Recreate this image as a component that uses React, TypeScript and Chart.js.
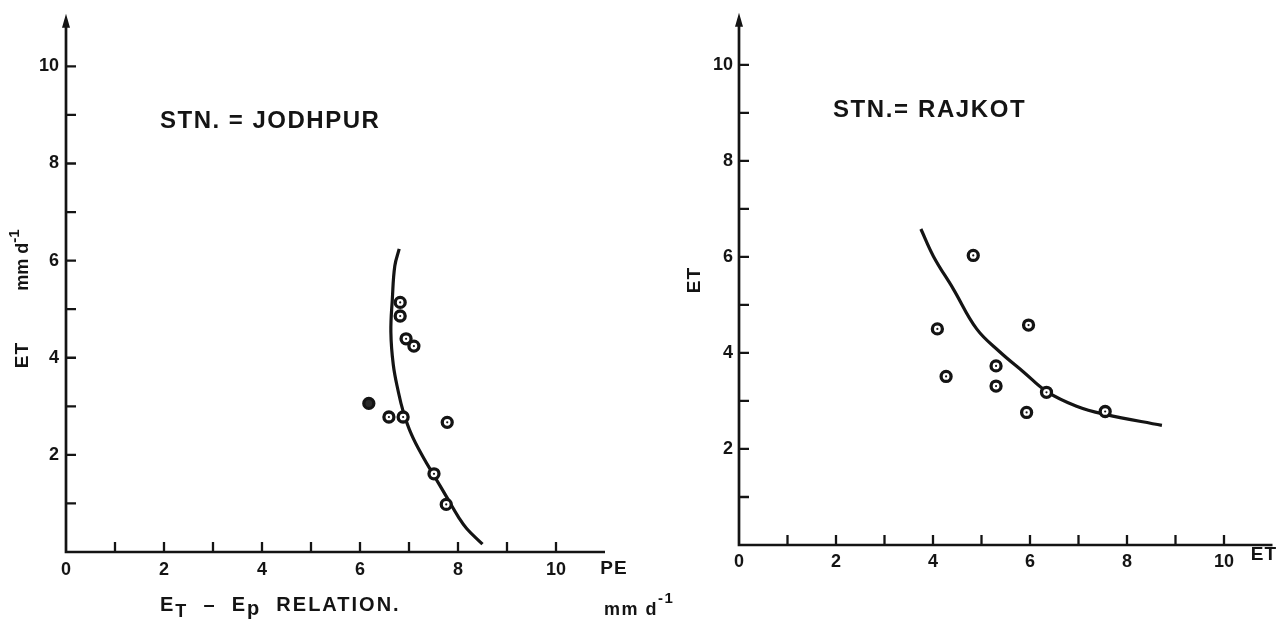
import React, { useEffect, useRef } from 'react';
import { Chart, registerables } from 'chart.js';

Chart.register(...registerables);

// ---------- DATA ----------
// Jodhpur: observed ET vs PE (mm/day)
const jodhpurPE = [6.82, 6.82, 6.94, 7.10, 6.59, 6.88, 7.78, 7.51, 7.76];
const jodhpurET = [5.14, 4.86, 4.39, 4.24, 2.78, 2.78, 2.67, 1.61, 0.98];
const jodhpurSolidPE = [6.18];
const jodhpurSolidET = [3.06];
// Jodhpur fitted curve
const jodhpurCurvePE = [6.80, 6.71, 6.66, 6.63, 6.68, 6.78, 6.88, 7.05, 7.29, 7.53, 7.77, 8.01, 8.18, 8.50];
const jodhpurCurveET = [6.24, 5.89, 5.21, 4.53, 3.85, 3.31, 2.90, 2.42, 1.95, 1.54, 1.13, 0.72, 0.48, 0.16];

// Rajkot: observed points
const rajkotX = [4.83, 4.09, 5.97, 4.27, 5.30, 5.30, 5.93, 6.34, 7.55];
const rajkotET = [6.03, 4.50, 4.58, 3.51, 3.73, 3.31, 2.76, 3.18, 2.78];
// Rajkot fitted curve
const rajkotCurveX = [3.75, 4.01, 4.42, 4.90, 5.38, 5.86, 6.34, 6.96, 7.55, 8.72];
const rajkotCurveET = [6.58, 6.01, 5.33, 4.50, 4.02, 3.61, 3.20, 2.89, 2.72, 2.49];

// Tick labels
const xTickLabels = ['0', '2', '4', '6', '8', '10'];
const yTickLabels = ['2', '4', '6', '8', '10'];
const minorTickValues = [1, 2, 3, 4, 5, 6, 7, 8, 9, 10];

// ---------- STYLE ----------
const INK = '#141414';
const FONT = '"Liberation Sans", Arial, sans-serif';

type Part = { t: string; size: number; dy?: number };
type TextItem = { parts: Part[]; x: number; y: number; align?: 'left' | 'center'; rotate?: boolean; spacing?: number };

const toPoints = (xs: number[], ys: number[]) => xs.map((x, i) => ({ x, y: ys[i] }));

function drawRich(ctx: CanvasRenderingContext2D, item: TextItem, offX: number) {
  ctx.save();
  ctx.fillStyle = INK;
  ctx.textBaseline = 'middle';
  ctx.textAlign = 'left';
  (ctx as any).letterSpacing = (item.spacing ?? 0) + 'px';
  let total = 0;
  const widths = item.parts.map((p) => {
    ctx.font = `bold ${p.size}px ${FONT}`;
    const w = ctx.measureText(p.t).width;
    total += w;
    return w;
  });
  ctx.translate(item.x - offX, item.y);
  if (item.rotate) ctx.rotate(-Math.PI / 2);
  let cx = item.align === 'left' ? 0 : -total / 2;
  item.parts.forEach((p, i) => {
    ctx.font = `bold ${p.size}px ${FONT}`;
    ctx.fillText(p.t, cx, p.dy ?? 0);
    cx += widths[i];
  });
  ctx.restore();
}

function makeDecor(name: string, offX: number, xEnd: number, yEnd: number, texts: TextItem[]) {
  return {
    id: 'decor_' + name,
    afterDraw(chart: any) {
      const ctx: CanvasRenderingContext2D = chart.ctx;
      const xs = chart.scales.x;
      const ys = chart.scales.y;
      const x0 = xs.getPixelForValue(0);
      const y0 = ys.getPixelForValue(0);
      const xe = xs.getPixelForValue(xEnd);
      const yt = ys.getPixelForValue(yEnd);
      ctx.save();
      ctx.strokeStyle = INK;
      ctx.fillStyle = INK;
      ctx.lineWidth = 2.7;
      ctx.beginPath();
      ctx.moveTo(x0 - 1.3, y0);
      ctx.lineTo(xe, y0);
      ctx.moveTo(x0, y0 + 1.3);
      ctx.lineTo(x0, yt + 4);
      ctx.stroke();
      // arrow head
      ctx.beginPath();
      ctx.moveTo(x0, yt - 4);
      ctx.lineTo(x0 - 4, yt + 10);
      ctx.lineTo(x0 + 4, yt + 10);
      ctx.closePath();
      ctx.fill();
      // inward ticks
      ctx.lineWidth = 2.3;
      ctx.beginPath();
      for (const v of minorTickValues) {
        const px = xs.getPixelForValue(v);
        ctx.moveTo(px, y0);
        ctx.lineTo(px, y0 - 10);
        const py = ys.getPixelForValue(v);
        ctx.moveTo(x0, py);
        ctx.lineTo(x0 + 10, py);
      }
      ctx.stroke();
      ctx.restore();
      texts.forEach((t) => drawRich(ctx, t, offX));
    },
  };
}

type ChartCfg = {
  name: string;
  left: number;
  width: number;
  height: number;
  originX: number;
  originY: number;
  top: number;
  right: number;
  xPad: number;
  yPad: number;
  points: { x: number; y: number }[];
  solid: { x: number; y: number }[];
  curve: { x: number; y: number }[];
  texts: TextItem[];
  radius: number;
};

function buildChart(canvas: HTMLCanvasElement, c: ChartCfg) {
  const tickFont = { family: FONT, size: 18, weight: 'bold' as const };
  return new Chart(canvas, {
    type: 'scatter',
    data: {
      datasets: [
        {
          data: c.points,
          order: 1,
          pointRadius: c.radius,
          pointBorderWidth: 3.3,
          pointBorderColor: INK,
          pointBackgroundColor: '#ffffff',
        },
        {
          data: c.solid,
          order: 1,
          pointRadius: c.radius,
          pointBorderWidth: 3.3,
          pointBorderColor: INK,
          pointBackgroundColor: '#2a2a2a',
        },
        {
          data: c.points,
          order: 0,
          pointRadius: 1.1,
          pointBorderWidth: 0,
          pointBackgroundColor: INK,
        },
        {
          data: c.curve,
          order: 3,
          showLine: true,
          tension: 0.4,
          borderColor: INK,
          borderWidth: 3.2,
          pointRadius: 0,
          fill: false,
        },
      ],
    },
    options: {
      animation: false,
      responsive: false,
      maintainAspectRatio: false,
      events: [],
      layout: { padding: { top: c.top, right: c.width - c.right, left: 0, bottom: 0 } },
      plugins: { legend: { display: false }, tooltip: { enabled: false } },
      scales: {
        x: {
          type: 'linear',
          min: 0,
          max: 11,
          grid: { display: false, drawTicks: false },
          border: { display: false },
          ticks: {
            stepSize: 1,
            autoSkip: false,
            maxRotation: 0,
            padding: c.xPad,
            color: INK,
            font: tickFont,
            callback: (v: any) => (xTickLabels.includes(String(v)) ? String(v) : ''),
          },
          afterFit: (s: any) => {
            s.height = c.height - c.originY;
          },
        },
        y: {
          type: 'linear',
          min: 0,
          max: 11,
          grid: { display: false, drawTicks: false },
          border: { display: false },
          ticks: {
            stepSize: 1,
            autoSkip: false,
            padding: c.yPad,
            color: INK,
            font: tickFont,
            callback: (v: any) => (yTickLabels.includes(String(v)) ? String(v) : ''),
          },
          afterFit: (s: any) => {
            s.width = c.originX - c.left;
          },
        },
      },
    },
    plugins: [makeDecor(c.name, c.left, 11, 11, c.texts)],
  } as any);
}

const leftCfg: ChartCfg = {
  name: 'jodhpur',
  left: 0,
  width: 720,
  height: 630,
  originX: 66,
  originY: 552,
  top: 13,
  right: 605,
  xPad: 7,
  yPad: 7,
  radius: 5,
  points: toPoints(jodhpurPE, jodhpurET),
  solid: toPoints(jodhpurSolidPE, jodhpurSolidET),
  curve: toPoints(jodhpurCurvePE, jodhpurCurveET),
  texts: [
    { parts: [{ t: 'STN. = JODHPUR', size: 24 }], x: 160, y: 121, align: 'left', spacing: 1.5 },
    { parts: [{ t: 'ET', size: 19 }], x: 23, y: 355, rotate: true, spacing: 1 },
    { parts: [{ t: 'mm d', size: 18 }, { t: '-1', size: 15, dy: -8 }], x: 23, y: 260, rotate: true },
    { parts: [{ t: 'PE', size: 19 }], x: 614, y: 569, spacing: 1 },
    {
      parts: [
        { t: 'E', size: 20 },
        { t: 'T', size: 18, dy: 7 },
        { t: '  \u2013  E', size: 20 },
        { t: 'p', size: 20, dy: 4 },
        { t: '  RELATION.', size: 20 },
      ],
      x: 160,
      y: 605,
      align: 'left',
      spacing: 2,
    },
    { parts: [{ t: 'mm d', size: 18 }, { t: '-1', size: 15, dy: -11 }], x: 604, y: 610, align: 'left', spacing: 1.5 },
  ],
};

const rightCfg: ChartCfg = {
  name: 'rajkot',
  left: 660,
  width: 627,
  height: 630,
  originX: 739,
  originY: 545,
  top: 11.5,
  right: 612.5,
  xPad: 6,
  yPad: 6,
  radius: 5,
  points: toPoints(rajkotX, rajkotET),
  solid: [],
  curve: toPoints(rajkotCurveX, rajkotCurveET),
  texts: [
    { parts: [{ t: 'STN.= RAJKOT', size: 24 }], x: 833, y: 110, align: 'left', spacing: 1.6 },
    { parts: [{ t: 'ET', size: 19 }], x: 695, y: 280, rotate: true, spacing: 1 },
    { parts: [{ t: 'ET', size: 19 }], x: 1264, y: 555, spacing: 1 },
  ],
};

function ChartCanvas({ cfg }: { cfg: ChartCfg }) {
  const ref = useRef<HTMLCanvasElement | null>(null);
  useEffect(() => {
    if (!ref.current) return;
    const chart = buildChart(ref.current, cfg);
    return () => chart.destroy();
  }, [cfg]);
  return (
    <canvas
      ref={ref}
      width={cfg.width}
      height={cfg.height}
      style={{ position: 'absolute', left: cfg.left, top: 0, width: cfg.width, height: cfg.height }}
    />
  );
}

export default function App() {
  return (
    <div style={{ position: 'absolute', left: 0, top: 0, width: 1287, height: 630, background: '#ffffff' }}>
      <ChartCanvas cfg={leftCfg} />
      <ChartCanvas cfg={rightCfg} />
    </div>
  );
}
